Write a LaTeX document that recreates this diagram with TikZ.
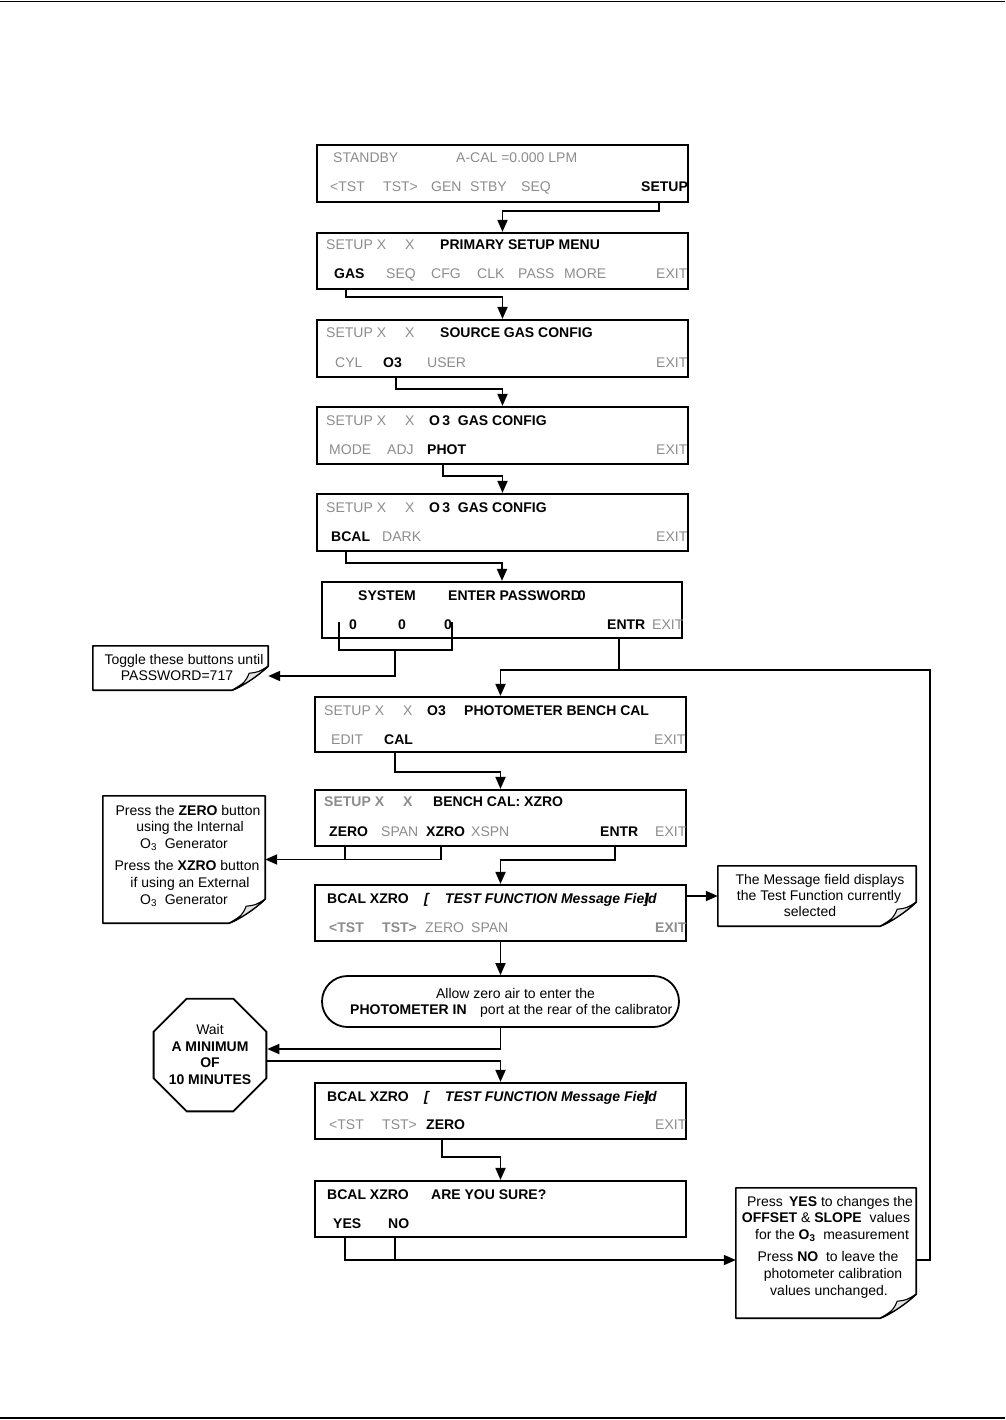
\documentclass[tikz,border=0pt]{standalone}
\usepackage{fontspec}
\setmainfont{Liberation Sans}
\usetikzlibrary{arrows.meta,shapes.geometric}
\definecolor{lcdgray}{RGB}{140,140,140}
\tikzset{
 lcd/.style={draw, line width=2.2pt, minimum width=371pt, minimum height=56pt, inner sep=0pt},
 notenode/.style={draw=none, inner sep=0pt},
 conn/.style={line width=1.8pt},
 arr/.style={conn, -{Triangle[length=12pt,width=10pt]}},
 gt/.style={text=lcdgray, anchor=base west, inner sep=0pt},
 gbt/.style={text=lcdgray, font=\bfseries, anchor=base west, inner sep=0pt},
 bt/.style={font=\bfseries, anchor=base west, inner sep=0pt},
 bit/.style={font=\bfseries\itshape, anchor=base west, inner sep=0pt},
 nt/.style={anchor=base, inner sep=0pt},
 ntb/.style={anchor=base, inner sep=0pt, font=\bfseries},
 noteline/.style={line width=1.6pt, line join=round},
}
\newcommand{\dogear}[1]{%
 \draw[noteline] (#1.north west) -- (#1.north east) -- ([yshift=24pt]#1.south east)
   .. controls ([xshift=-12pt,yshift=13pt]#1.south east) and ([xshift=-26pt,yshift=4pt]#1.south east) .. ([xshift=-36pt]#1.south east)
   -- (#1.south west) -- cycle;
 \filldraw[fill=gray!22, line width=1.1pt, line join=round] ([yshift=24pt]#1.south east)
   .. controls ([xshift=-10pt,yshift=18pt]#1.south east) .. ([xshift=-19pt,yshift=17pt]#1.south east)
   .. controls ([xshift=-23pt,yshift=8pt]#1.south east) .. ([xshift=-36pt]#1.south east)
   .. controls ([xshift=-26pt,yshift=4pt]#1.south east) and ([xshift=-12pt,yshift=13pt]#1.south east) .. ([yshift=24pt]#1.south east);
}
\begin{document}
\begin{tikzpicture}[x=1pt,y=-1pt]
\fontsize{14pt}{16pt}\selectfont
\useasboundingbox (0,0) rectangle (1005,1420);
% page rules
\coordinate (rtl) at (0,1.5); \coordinate (rtr) at (1005,1.5);
\coordinate (rbl) at (0,1418); \coordinate (rbr) at (1005,1418);
\draw[line width=1.5pt] (rtl) -- (rtr);
\draw[line width=1.5pt] (rbl) -- (rbr);

% ---------- Box 1
\node[lcd, minimum height=57pt] (box1) at (502.5,173.5) {};
\node[gt] (t1a) at (333,163) {STANDBY};
\node[gt] (t1b) at (456,163) {A-CAL =0.000 LPM};
\node[gt] (t1c) at (330,192) {<TST};
\node[gt] (t1d) at (383,192) {TST>};
\node[gt] (t1e) at (431,192) {GEN};
\node[gt] (t1f) at (470,192) {STBY};
\node[gt] (t1g) at (521,192) {SEQ};
\node[bt] (t1h) at (641,192) {SETUP};
\coordinate (b1setup) at (659,202);

% ---------- Box 2
\node[lcd] (box2) at (502.5,261) {};
\node[gt] (t2a) at (326,250) {SETUP X};
\node[gt] (t2b) at (405,250) {X};
\node[bt] (t2c) at (440,250) {PRIMARY SETUP MENU};
\node[bt] (t2d) at (334,279) {GAS};
\node[gt] (t2e) at (386,279) {SEQ};
\node[gt] (t2f) at (431,279) {CFG};
\node[gt] (t2g) at (477,279) {CLK};
\node[gt] (t2h) at (518,279) {PASS};
\node[gt] (t2i) at (564,279) {MORE};
\node[gt] (t2j) at (656,279) {EXIT};
\coordinate (b2gas) at (346,289);

% ---------- Box 3
\node[lcd, minimum height=57pt] (box3) at (502.5,348.5) {};
\node[gt] (t3a) at (326,337) {SETUP X};
\node[gt] (t3b) at (405,337) {X};
\node[bt] (t3c) at (440,337) {SOURCE GAS CONFIG};
\node[gt] (t3d) at (335,367) {CYL};
\node[bt] (t3e) at (383,367) {O3};
\node[gt] (t3f) at (427,367) {USER};
\node[gt] (t3g) at (656,367) {EXIT};
\coordinate (b3o3) at (396,377);

% ---------- Box 4
\node[lcd, minimum height=57pt] (box4) at (502.5,435.5) {};
\node[gt] (t4a) at (326,425) {SETUP X};
\node[gt] (t4b) at (405,425) {X};
\node[bt] (t4c) at (429,425) {O\,3\ \ GAS CONFIG};
\node[gt] (t4d) at (329,454) {MODE};
\node[gt] (t4e) at (387,454) {ADJ};
\node[bt] (t4f) at (427,454) {PHOT};
\node[gt] (t4g) at (656,454) {EXIT};
\coordinate (b4phot) at (443,464);

% ---------- Box 5
\node[lcd, minimum height=57pt] (box5) at (502.5,522.5) {};
\node[gt] (t5a) at (326,512) {SETUP X};
\node[gt] (t5b) at (405,512) {X};
\node[bt] (t5c) at (429,512) {O\,3\ \ GAS CONFIG};
\node[bt] (t5d) at (331,541) {BCAL};
\node[gt] (t5e) at (382,541) {DARK};
\node[gt] (t5f) at (656,541) {EXIT};
\coordinate (b5bcal) at (346,551);

% ---------- Box 6
\node[lcd, minimum width=360pt] (box6) at (502,610) {};
\node[bt] (t6a) at (358,600) {SYSTEM};
\node[bt] (t6b) at (448,600) {ENTER PASSWORD\kern-3pt0};
\node[bt] (t6c) at (349,629) {0};
\node[bt] (t6d) at (398,629) {0};
\node[bt] (t6e) at (444,629) {0};
\node[bt] (t6f) at (607,629) {ENTR};
\node[gt] (t6g) at (652,629) {EXIT};
\coordinate (z1) at (339,622);
\coordinate (z3) at (452,622);
\coordinate (zj) at (339,650);
\coordinate (zk) at (452,650);
\coordinate (zm) at (395,650);
\coordinate (b6entr) at (619,638);
\coordinate (loopc) at (930,670);

% Toggle note
\node[notenode, minimum width=175pt, minimum height=44pt] (tognote) at (180.5,668) {};
\dogear{tognote}
\node[nt] (tn1) at (184,664) {Toggle these buttons until};
\node[nt] (tn2) at (177,680) {PASSWORD=717};

% ---------- Box 7
\node[lcd, minimum height=55pt] (box7) at (500.5,724.5) {};
\node[gt] (t7a) at (324,715) {SETUP X};
\node[gt] (t7b) at (403,715) {X};
\node[bt] (t7c) at (427,715) {O3};
\node[bt] (t7d) at (464,715) {PHOTOMETER BENCH CAL};
\node[gt] (t7e) at (331,744) {EDIT};
\node[bt] (t7f) at (384,744) {CAL};
\node[gt] (t7g) at (654,744) {EXIT};
\coordinate (b7cal) at (395,752);

% ---------- Box 8
\node[lcd] (box8) at (500.5,818) {};
\node[gbt] (t8a) at (324,806) {SETUP X};
\node[gbt] (t8b) at (403,806) {X};
\node[bt] (t8c) at (433,806) {BENCH CAL: XZRO};
\node[bt] (t8d) at (329,836) {ZERO};
\node[gt] (t8e) at (381,836) {SPAN};
\node[bt] (t8f) at (426,836) {XZRO};
\node[gt] (t8g) at (471,836) {XSPN};
\node[bt] (t8h) at (600,836) {ENTR};
\node[gt] (t8i) at (655,836) {EXIT};
\coordinate (b8zero) at (345,846);
\coordinate (b8xzro) at (441,846);
\coordinate (b8entr) at (615,846);

% Zero note
\node[notenode, minimum width=162pt, minimum height=127pt] (zeronote) at (184,859.5) {};
\dogear{zeronote}
\node[nt] (zn1) at (188,815) {Press the \textbf{ZERO} button};
\node[nt] (zn2) at (190,831) {using the Internal};
\node[nt] (zn3) at (184,848) {O\textsubscript{3}\ \ Generator};
\node[nt] (zn4) at (187,870) {Press the \textbf{XZRO} button};
\node[nt] (zn5) at (190,887) {if using an External};
\node[nt] (zn6) at (184,904) {O\textsubscript{3}\ \ Generator};

% ---------- Box 9
\node[lcd] (box9) at (500.5,913) {};
\node[bt] (t9a) at (327,903) {BCAL XZRO};
\node[bit] (t9b) at (424,903) {[};
\node[bit] (t9c) at (445,903) {TEST FUNCTION Message Fie\rlap{]}ld};
\node[gbt] (t9e) at (329,932) {<TST};
\node[gbt] (t9f) at (382,932) {TST>};
\node[gt] (t9g) at (425,932) {ZERO};
\node[gt] (t9h) at (471,932) {SPAN};
\node[gbt] (t9i) at (655,932) {EXIT};

% Message note
\node[notenode, minimum width=198pt, minimum height=60pt] (msgnote) at (817,896) {};
\dogear{msgnote}
\node[nt] (mn1) at (820,884) {The Message field displays};
\node[nt] (mn2) at (819,900) {the Test Function currently};
\node[nt] (mn3) at (810,916) {selected};

% ---------- Stadium
\node[draw, line width=1.8pt, rounded corners=25.5pt, minimum width=357pt, minimum height=51pt, inner sep=0pt] (stad) at (500.5,1001.5) {};
\node[nt] (s1) at (515.5,998) {Allow zero air to enter the};
\node[bt] (s2) at (350,1014) {PHOTOMETER IN};
\node[gt, text=black] (s3) at (480,1014) {port at the rear of the calibrator};

% ---------- Octagon
\node[draw, line width=1.8pt, regular polygon, regular polygon sides=8, minimum size=122pt, inner sep=0pt] (oct) at (210,1055) {};
\node[nt] (o1) at (210,1034) {Wait};
\node[ntb] (o2) at (210,1051) {A MINIMUM};
\node[ntb] (o3) at (210,1067) {OF};
\node[ntb] (o4) at (210,1084) {10 MINUTES};

% ---------- Box 10
\node[lcd] (box10) at (500.5,1111) {};
\node[bt] (ta) at (327,1101) {BCAL XZRO};
\node[bit] (tb) at (424,1101) {[};
\node[bit] (tc) at (445,1101) {TEST FUNCTION Message Fie\rlap{]}ld};
\node[gt] (te) at (329,1129) {<TST};
\node[gt] (tf) at (382,1129) {TST>};
\node[bt] (tg) at (426,1129) {ZERO};
\node[gt] (th) at (655,1129) {EXIT};
\coordinate (b10zero) at (442,1139);

% ---------- Box 11
\node[lcd] (box11) at (500.5,1209) {};
\node[bt] (tba) at (327,1199) {BCAL XZRO};
\node[bt] (tbb) at (431,1199) {ARE YOU SURE?};
\node[bt] (tbc) at (333,1228) {YES};
\node[bt] (tbd) at (388,1228) {NO};
\coordinate (b11yes) at (345,1237);
\coordinate (b11no) at (395,1237);
\coordinate (yj) at (345,1260);
\coordinate (nj) at (395,1260);

% Yes note
\node[notenode, minimum width=180pt, minimum height=130pt] (yesnote) at (826,1253) {};
\dogear{yesnote}
\node[nt] (yn1) at (830,1206) {Press \,\textbf{YES} to changes the};
\node[nt] (yn2) at (826,1222) {\textbf{OFFSET} \& \textbf{SLOPE} \ values};
\node[nt] (yn3) at (832,1239) {for the \textbf{O\textsubscript{3}}\ \ measurement};
\node[nt] (yn4) at (828,1261) {Press \textbf{NO} \ to leave the};
\node[nt] (yn5) at (833,1278) {photometer calibration};
\node[nt] (yn6) at (829,1295) {values unchanged.};

% ---------- Connectors
\draw[arr] (b1setup) -- ++(0,9) -| (box2.north);
\draw[arr] (b2gas) -- ++(0,8) -| (box3.north);
\draw[arr] (b3o3) -- ++(0,12) -| (box4.north);
\draw[arr] (b4phot) -- ++(0,12) -| (box5.north);
\draw[arr] (b5bcal) -- ++(0,12) -| (box6.north);
\draw[conn] (z1) -- (zj) -- (zk) -- (z3);
\draw[arr] (zm) -- ++(0,26) -- ([yshift=-8pt]tognote.east);
\draw[arr] (b6entr) -- ++(0,32) -| (box7.north);
\draw[arr] (b7cal) -- ++(0,20) -| (box8.north);
\draw[conn] (b8zero) -- (b8zero |- zeronote.east);
\draw[arr] (b8xzro) -- (b8xzro |- zeronote.east) -- (zeronote.east);
\draw[arr] (b8entr) -- ++(0,14) -| (box9.north);
\draw[arr] (box9.east |- msgnote.west) -- (msgnote.west);
\draw[arr] (box9.south) -- (stad.north);
\draw[arr] (stad.south) |- ([yshift=6pt]oct.east);
\draw[arr] ([yshift=-6pt]oct.east) -| (box10.north);
\draw[arr] (b10zero) -- ++(0,18) -| (box11.north);
\draw[conn] (b11no) -- (nj);
\draw[arr] (b11yes) -- (yj) -- ([yshift=-7pt]yesnote.west);
\draw[conn] ([yshift=-7pt]yesnote.east) -| (loopc) -- (b6entr |- loopc);
\end{tikzpicture}
\end{document}
